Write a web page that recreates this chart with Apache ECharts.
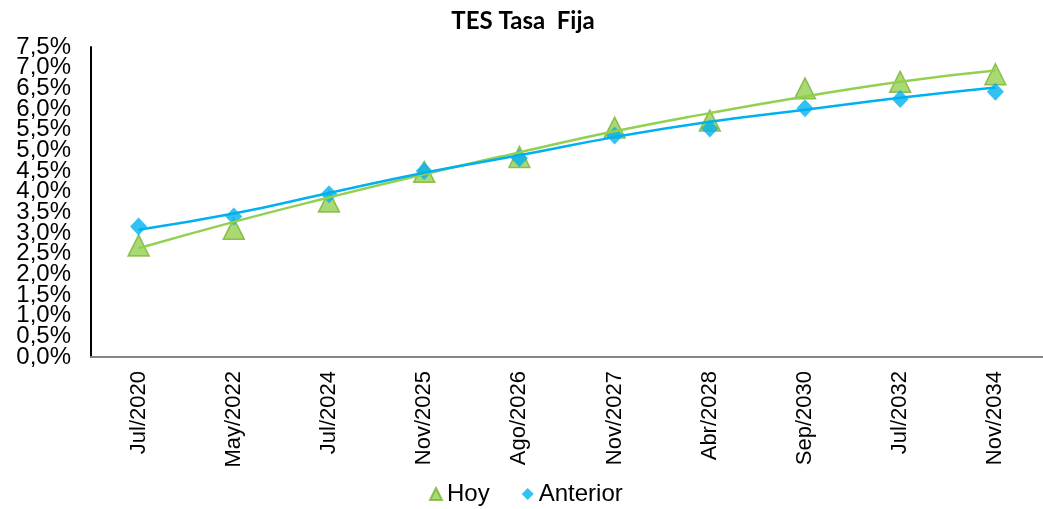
<!DOCTYPE html>
<html>
<head>
<meta charset="utf-8">
<script src="https://cdn.jsdelivr.net/npm/echarts@6/dist/echarts.min.js"></script>
<style>
  html, body { margin: 0; padding: 0; background: #fff; }
  #chart { width: 1043px; height: 509px; }
</style>
</head>
<body>
<div id="chart"></div>
<script>
// categorias (fechas de vencimiento)
const categories = ["Jul/2020", "May/2022", "Jul/2024", "Nov/2025", "Ago/2026",
  "Nov/2027", "Abr/2028", "Sep/2030", "Jul/2032", "Nov/2034"];
// tasas en %
const hoy = [2.70, 3.10, 3.76, 4.48, 4.84, 5.55, 5.72, 6.50, 6.66, 6.84];
const anterior = [3.16, 3.40, 3.94, 4.50, 4.81, 5.36, 5.53, 6.02, 6.24, 6.42];
// lineas de tendencia
const hoyTrend = [2.63, 3.27, 3.86, 4.42, 4.95, 5.46, 5.90, 6.30, 6.66, 6.93];
const anteriorTrend = [3.08, 3.47, 3.97, 4.46, 4.88, 5.32, 5.69, 5.98, 6.27, 6.52];
const yTicks = { min: 0, max: 7.5, step: 0.5 };

const green = "#92D050";
const blue = "#00B0F0";

let myChart = echarts.init(document.getElementById("chart"));

const fmtPct = v => v.toFixed(1).replace(".", ",") + "%";
const labelStyle = {
  margin: 20,
  fontFamily: "Liberation Sans",
  fontSize: 24,
  lineHeight: 14,
  color: "#000"
};

let option = {
  animation: false,
  title: {
    text: "TES Tasa  Fija",
    left: 518,
    textAlign: "center",
    top: 4,
    textStyle: {
      fontFamily: "Lato",
      fontWeight: "bold",
      fontSize: 24,
      color: "#000"
    }
  },
  legend: {
    bottom: -2,
    left: 424,
    itemGap: 32,
    itemWidth: 12,
    itemHeight: 12,
    textStyle: {
      fontFamily: "Liberation Sans",
      fontSize: 24,
      color: "#000"
    },
    data: [
      { name: "Hoy", icon: "triangle", itemStyle: { color: green } },
      { name: "Anterior", icon: "diamond", itemStyle: { color: blue } }
    ]
  },
  grid: {
    left: 91,
    right: -10,
    top: 47,
    bottom: 152,
    containLabel: false
  },
  xAxis: {
    type: "category",
    data: categories,
    boundaryGap: true,
    axisLine: { lineStyle: { color: "#868686", width: 2 } },
    axisTick: { show: false },
    axisLabel: {
      rotate: 90,
      interval: 0,
      margin: 14,
      fontFamily: "Liberation Sans",
      fontSize: 22,
      color: "#000"
    }
  },
  yAxis: [
    {
      // etiquetas intermedias
      type: "value",
      min: yTicks.min,
      max: yTicks.max,
      interval: yTicks.step,
      axisLine: { show: true, lineStyle: { color: "#000", width: 2 } },
      axisTick: { show: false },
      splitLine: { show: false },
      axisLabel: Object.assign({}, labelStyle, {
        showMinLabel: false,
        showMaxLabel: false,
        formatter: fmtPct
      })
    },
    {
      // solo 0,0% y 7,5% (se ocultan por solapamiento en el eje principal)
      type: "value",
      position: "left",
      offset: 0,
      min: yTicks.min,
      max: yTicks.max,
      interval: yTicks.step,
      axisLine: { show: false },
      axisTick: { show: false },
      splitLine: { show: false },
      axisLabel: Object.assign({}, labelStyle, {
        showMinLabel: true,
        showMaxLabel: true,
        formatter: v => (v === yTicks.min || v === yTicks.max) ? fmtPct(v) : ""
      })
    }
  ],
  series: [
    {
      name: "Hoy",
      type: "scatter",
      symbol: "triangle",
      symbolSize: [21, 21],
      itemStyle: { color: green, borderColor: "#7CB233", borderWidth: 1.5 },
      z: 2,
      data: hoy
    },
    {
      name: "Anterior",
      type: "scatter",
      symbol: "diamond",
      symbolSize: [17, 18],
      itemStyle: { color: blue },
      z: 3,
      data: anterior
    },
    {
      name: "Tendencia Hoy",
      type: "line",
      smooth: true,
      symbol: "none",
      lineStyle: { color: green, width: 2.5 },
      z: 4,
      data: hoyTrend
    },
    {
      name: "Tendencia Anterior",
      type: "line",
      smooth: true,
      symbol: "none",
      lineStyle: { color: blue, width: 2.5 },
      z: 4,
      data: anteriorTrend
    }
  ]
};

myChart.setOption(option);
window.addEventListener("resize", () => {
  myChart.resize();
});
</script>
</body>
</html>
